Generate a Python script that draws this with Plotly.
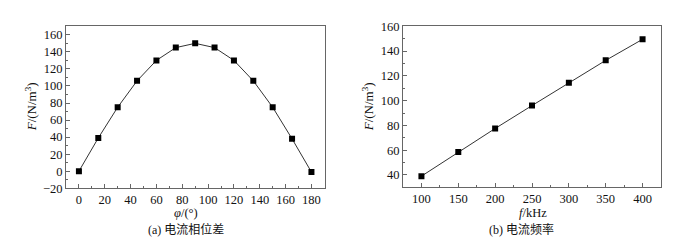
import plotly.graph_objects as go

# (a) current phase difference
phase_deg = [0, 15, 30, 45, 60, 75, 90, 105, 120, 135, 150, 165, 180]
force_a = [0, 39, 75, 106, 130, 145, 150, 145, 130, 106, 75, 38, -1]

# (b) current frequency
freq_khz = [100, 150, 200, 250, 300, 350, 400]
force_b = [39, 58.5, 77.5, 96, 114.5, 132.5, 149.5]

W, H = 677, 240
FONT = "Liberation Serif"
CJK = "Liberation Serif, Noto Sans CJK SC"
AX = "#666666"

def px(x):
    return x / W

def py(y):
    return (H - y) / H

fig = go.Figure()
mk = dict(symbol="square", size=6, color="black")
ln = dict(color="#333333", width=1)
fig.add_trace(go.Scatter(x=phase_deg, y=force_a, mode="lines+markers",
                         marker=mk, line=ln, xaxis="x", yaxis="y", showlegend=False))
fig.add_trace(go.Scatter(x=freq_khz, y=force_b, mode="lines+markers",
                         marker=mk, line=ln, xaxis="x2", yaxis="y2", showlegend=False))

axcommon = dict(showline=True, linecolor=AX, linewidth=1, mirror=True,
                ticks="inside", ticklen=4, tickcolor=AX, showgrid=False,
                zeroline=False, tickfont=dict(family=FONT, size=12.5, color="#111"))

fig.update_layout(
    width=W, height=H, margin=dict(l=0, r=0, t=0, b=0),
    paper_bgcolor="white", plot_bgcolor="white",
    font=dict(family=FONT, size=12, color="#111"),
    xaxis=dict(domain=[px(58), px(317)], range=[-10, 190.5], dtick=20, tick0=0,
               anchor="y", minor=dict(ticks="inside", ticklen=2, dtick=10, tickcolor=AX),
               **axcommon),
    yaxis=dict(domain=[py(184), py(12)], range=[-20, 170], dtick=20, tick0=0,
               anchor="x", minor=dict(ticks="inside", ticklen=2, dtick=10, tickcolor=AX),
               **axcommon),
    xaxis2=dict(domain=[px(395), px(653)], range=[75, 425], dtick=50, tick0=0,
                anchor="y2", minor=dict(ticks="inside", ticklen=2, dtick=25, tickcolor=AX),
                **axcommon),
    yaxis2=dict(domain=[py(183), py(12)], range=[30, 160], dtick=20, tick0=0,
                anchor="x2", minor=dict(ticks="inside", ticklen=2, dtick=10, tickcolor=AX),
                **axcommon),
)

ann = [
    dict(x=px(23), y=py(98), text="<i>F</i>/(N/m<sup>3</sup>)", textangle=-90, size=13),
    dict(x=px(360), y=py(98), text="<i>F</i>/(N/m<sup>3</sup>)", textangle=-90, size=13),
    dict(x=px(178), y=py(210.5), text="<i>φ</i>/(°)", size=12.5),
    dict(x=px(525), y=py(210.5), text="<i>f</i>/kHz", size=12.5),
    dict(x=px(178), y=py(227.5), text="(a) 电流相位差", size=12),
    dict(x=px(513), y=py(227.5), text="(b) 电流频率", size=12),
]
for a in ann:
    s = a.pop("size")
    fig.add_annotation(xref="paper", yref="paper", showarrow=False,
                       xanchor="center", yanchor="middle",
                       font=dict(family=CJK, size=s, color="#111"), **a)

fig.write_html("out.html")
